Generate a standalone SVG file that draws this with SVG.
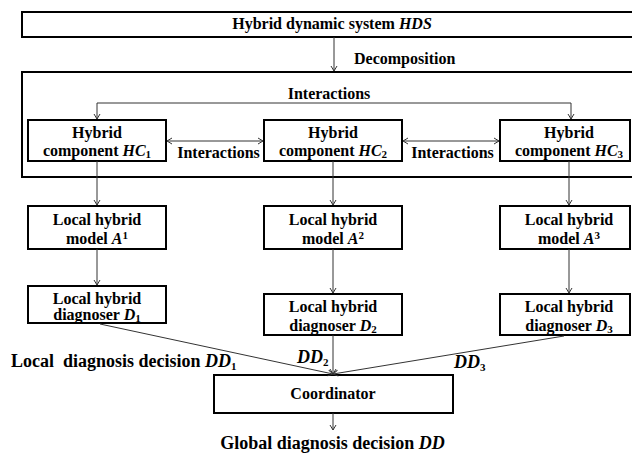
<svg xmlns="http://www.w3.org/2000/svg" width="632" height="454" viewBox="0 0 632 454">
  <style>
    text { font-family: "Liberation Serif", serif; font-weight: bold; fill: #000; }
    .box { fill: #fff; stroke: #000; stroke-width: 2; }
    .t { font-size: 16px; text-anchor: middle; }
    .l { font-size: 18px; }
    .i { font-style: italic; }
    .s { font-size: 11px; }
    .conn { fill: none; stroke: #333; stroke-width: 1; }
  </style>
  <defs>
    <marker id="arr" viewBox="-7 -5 8 10" refX="0" refY="0" markerWidth="8" markerHeight="10" markerUnits="userSpaceOnUse" orient="auto-start-reverse">
      <path d="M-5,-3 L0,0 L-5,3" fill="none" stroke="#333" stroke-width="1"/>
    </marker>
  </defs>

  <g id="hds">
    <rect class="box" x="22" y="12" width="622" height="25"/>
    <text class="t" x="332" y="29">Hybrid dynamic system <tspan class="i">HDS</tspan></text>
  </g>

  <g id="container">
    <rect class="box" x="22" y="72" width="622" height="105"/>
  </g>

  <g id="labels">
    <text class="t" x="354" y="64" style="text-anchor:start">Decomposition</text>
    <text class="t" x="329" y="99">Interactions</text>
    <text class="t" x="218.5" y="158">Interactions</text>
    <text class="t" x="452.5" y="158">Interactions</text>
    <text class="l" x="11" y="367" style="white-space:pre">Local  diagnosis decision <tspan class="i">DD</tspan><tspan class="s" dy="3">1</tspan></text>
    <text class="l" x="297" y="363"><tspan class="i">DD</tspan><tspan class="s" dy="3">2</tspan></text>
    <text class="l" x="454" y="368"><tspan class="i">DD</tspan><tspan class="s" dy="3">3</tspan></text>
    <text class="l" x="332.5" y="449" style="text-anchor:middle">Global diagnosis decision <tspan class="i">DD</tspan></text>
  </g>

  <g id="hc1">
    <rect class="box" x="28" y="120" width="138" height="41"/>
    <text class="t" x="97" y="138">Hybrid</text>
    <text class="t" x="97" y="156">component <tspan class="i">HC</tspan><tspan class="s" dy="2">1</tspan></text>
  </g>
  <g id="hc2">
    <rect class="box" x="264" y="120" width="138" height="41"/>
    <text class="t" x="333" y="138">Hybrid</text>
    <text class="t" x="333" y="156">component <tspan class="i">HC</tspan><tspan class="s" dy="2">2</tspan></text>
  </g>
  <g id="hc3">
    <rect class="box" x="500" y="120" width="130" height="41"/>
    <text class="t" x="569" y="138">Hybrid</text>
    <text class="t" x="569" y="156">component <tspan class="i">HC</tspan><tspan class="s" dy="2">3</tspan></text>
  </g>

  <g id="a1">
    <rect class="box" x="28" y="206" width="138" height="43"/>
    <text class="t" x="97" y="225">Local hybrid</text>
    <text class="t" x="97" y="244">model <tspan class="i">A</tspan><tspan class="s" dy="-5">1</tspan></text>
  </g>
  <g id="a2">
    <rect class="box" x="264" y="206" width="138" height="43"/>
    <text class="t" x="333" y="225">Local hybrid</text>
    <text class="t" x="333" y="244">model <tspan class="i">A</tspan><tspan class="s" dy="-5">2</tspan></text>
  </g>
  <g id="a3">
    <rect class="box" x="500" y="206" width="130" height="43"/>
    <text class="t" x="569" y="225">Local hybrid</text>
    <text class="t" x="569" y="244">model <tspan class="i">A</tspan><tspan class="s" dy="-5">3</tspan></text>
  </g>

  <g id="d1">
    <rect class="box" x="28" y="286" width="138" height="37"/>
    <text class="t" x="97" y="304">Local hybrid</text>
    <text class="t" x="97" y="320">diagnoser <tspan class="i">D</tspan><tspan class="s" dy="2">1</tspan></text>
  </g>
  <g id="d2">
    <rect class="box" x="264" y="294" width="138" height="41"/>
    <text class="t" x="333" y="312">Local hybrid</text>
    <text class="t" x="333" y="331">diagnoser <tspan class="i">D</tspan><tspan class="s" dy="2">2</tspan></text>
  </g>
  <g id="d3">
    <rect class="box" x="500" y="294" width="130" height="41"/>
    <text class="t" x="569" y="312">Local hybrid</text>
    <text class="t" x="569" y="331">diagnoser <tspan class="i">D</tspan><tspan class="s" dy="2">3</tspan></text>
  </g>

  <g id="coordinator">
    <rect class="box" x="214" y="375" width="239" height="38"/>
    <text class="t" x="333" y="399">Coordinator</text>
  </g>

  <g id="connectors">
    <path class="conn" d="M334,37 V71" marker-end="url(#arr)"/>
    <path class="conn" d="M97,119 V103 H571 V119" marker-start="url(#arr)" marker-end="url(#arr)"/>
    <path class="conn" d="M167,141 H263" marker-start="url(#arr)" marker-end="url(#arr)"/>
    <path class="conn" d="M403,141 H499" marker-start="url(#arr)" marker-end="url(#arr)"/>
    <path class="conn" d="M97,161 V205" marker-end="url(#arr)"/>
    <path class="conn" d="M333,161 V205" marker-end="url(#arr)"/>
    <path class="conn" d="M569,161 V205" marker-end="url(#arr)"/>
    <path class="conn" d="M97,249 V285" marker-end="url(#arr)"/>
    <path class="conn" d="M333,249 V293" marker-end="url(#arr)"/>
    <path class="conn" d="M569,249 V293" marker-end="url(#arr)"/>
    <path class="conn" d="M100,324 L333,374" marker-end="url(#arr)"/>
    <path class="conn" d="M333,335 V374" marker-end="url(#arr)"/>
    <path class="conn" d="M564,336 L333,374" marker-end="url(#arr)"/>
    <path class="conn" d="M333,413 V430" marker-end="url(#arr)"/>
  </g>
</svg>
